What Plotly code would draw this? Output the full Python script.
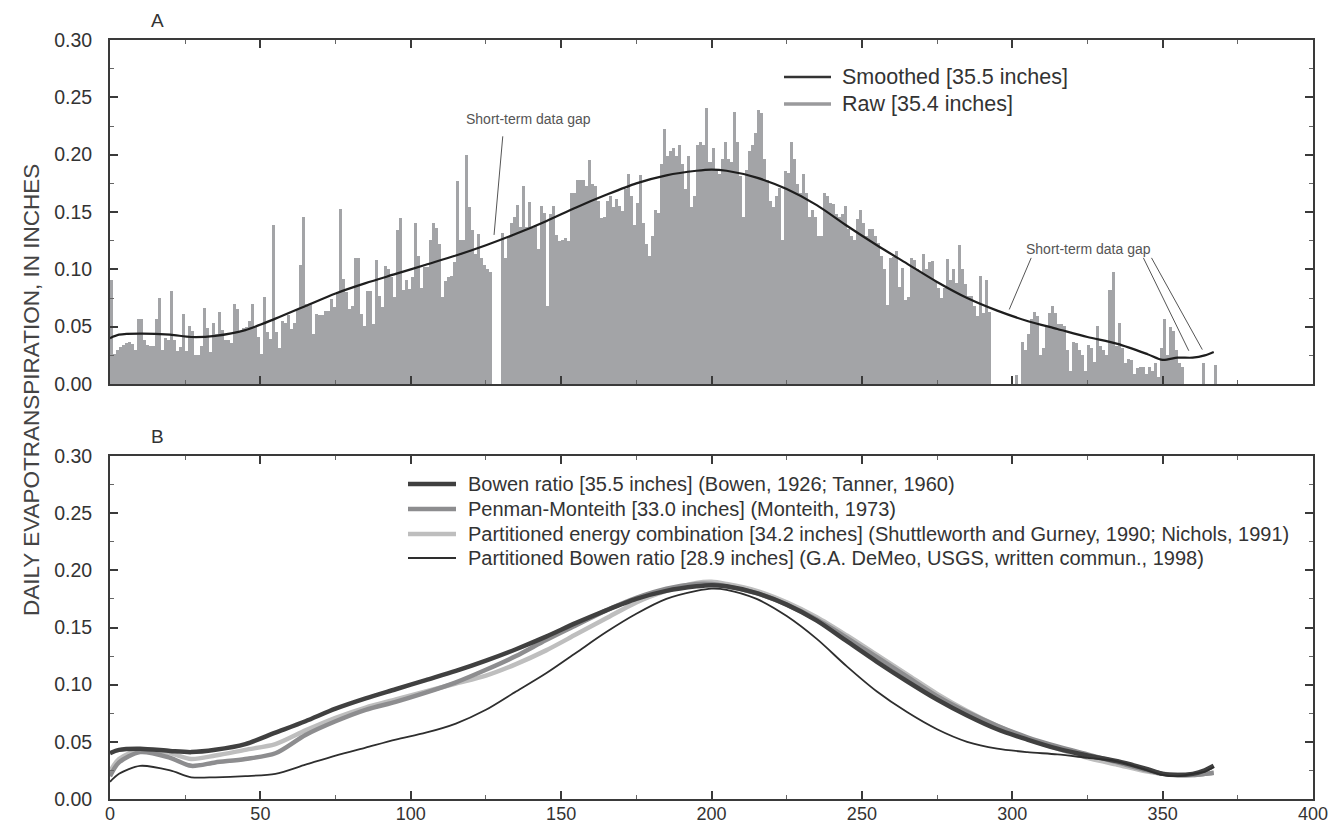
import plotly.graph_objects as go
from plotly.subplots import make_subplots

# ---------------- DATA ----------------
# Panel A: raw daily evapotranspiration (inches), day index 0..367
raw_days = list(range(0, 368))
raw_values = [
    # 0-65
    0.091, 0.026, 0.030, 0.032, 0.034, 0.036, 0.037, 0.035, 0.030, 0.057,
    0.057, 0.038, 0.034, 0.033, 0.033, 0.057, 0.075, 0.030, 0.040, 0.038,
    0.081, 0.038, 0.029, 0.032, 0.061, 0.029, 0.051, 0.046, 0.025, 0.025,
    0.033, 0.066, 0.049, 0.028, 0.053, 0.044, 0.063, 0.047, 0.038, 0.038,
    0.036, 0.070, 0.065, 0.045, 0.049, 0.050, 0.055, 0.070, 0.050, 0.041,
    0.026, 0.076, 0.045, 0.039, 0.139, 0.045, 0.031, 0.055, 0.053, 0.060,
    0.048, 0.053, 0.065, 0.104, 0.146, 0.070,
    # 66-131
    0.070, 0.044, 0.061, 0.060, 0.060, 0.064, 0.064, 0.074, 0.067, 0.080,
    0.153, 0.092, 0.080, 0.065, 0.068, 0.110, 0.110, 0.061, 0.051, 0.081,
    0.081, 0.052, 0.108, 0.077, 0.067, 0.103, 0.100, 0.093, 0.076, 0.134,
    0.145, 0.082, 0.091, 0.083, 0.093, 0.140, 0.112, 0.084, 0.102, 0.102,
    0.126, 0.140, 0.136, 0.122, 0.076, 0.090, 0.093, 0.094, 0.106, 0.177,
    0.126, 0.126, 0.200, 0.154, 0.134, 0.113, 0.131, 0.110, 0.104, 0.100,
    0.098, 0.0, 0.0, 0.0, 0.132, 0.110,
    # 132-199
    0.129, 0.140, 0.146, 0.156, 0.137, 0.173, 0.137, 0.159, 0.136, 0.139,
    0.118, 0.155, 0.149, 0.068, 0.148, 0.155, 0.130, 0.125, 0.126, 0.127,
    0.125, 0.167, 0.167, 0.178, 0.178, 0.178, 0.173, 0.195, 0.174, 0.173,
    0.160, 0.145, 0.146, 0.160, 0.164, 0.154, 0.161, 0.155, 0.151, 0.170,
    0.183, 0.164, 0.139, 0.158, 0.182, 0.140, 0.122, 0.112, 0.129, 0.152,
    0.149, 0.192, 0.222, 0.199, 0.203, 0.206, 0.199, 0.208, 0.192, 0.170,
    0.199, 0.154, 0.164, 0.208, 0.211, 0.208, 0.241, 0.194,
    # 200-265
    0.206, 0.187, 0.183, 0.196, 0.211, 0.196, 0.194, 0.237, 0.211, 0.181,
    0.146, 0.187, 0.203, 0.208, 0.219, 0.239, 0.236, 0.196, 0.178, 0.160,
    0.154, 0.164, 0.171, 0.126, 0.186, 0.184, 0.211, 0.196, 0.174, 0.167,
    0.183, 0.167, 0.146, 0.152, 0.146, 0.129, 0.129, 0.167, 0.164, 0.158,
    0.157, 0.148, 0.146, 0.148, 0.155, 0.135, 0.129, 0.126, 0.144, 0.152,
    0.140, 0.129, 0.135, 0.135, 0.129, 0.123, 0.112, 0.100, 0.069, 0.110,
    0.111, 0.116, 0.085, 0.101, 0.073, 0.076,
    # 266-332
    0.110, 0.108, 0.100, 0.098, 0.113, 0.100, 0.106, 0.107, 0.090, 0.084,
    0.075, 0.084, 0.109, 0.091, 0.100, 0.088, 0.121, 0.100, 0.087, 0.077,
    0.077, 0.068, 0.059, 0.094, 0.062, 0.091, 0.063, 0.0, 0.0, 0.0,
    0.0, 0.0, 0.0, 0.0, 0.0, 0.008, 0.0, 0.037, 0.030, 0.044,
    0.057, 0.063, 0.059, 0.025, 0.031, 0.050, 0.062, 0.068, 0.062, 0.052,
    0.052, 0.051, 0.030, 0.011, 0.037, 0.036, 0.030, 0.025, 0.011, 0.034,
    0.031, 0.019, 0.051, 0.033, 0.030, 0.025, 0.082,
    # 333-367
    0.098, 0.033, 0.053, 0.031, 0.018, 0.022, 0.021, 0.009, 0.014, 0.015,
    0.015, 0.009, 0.015, 0.011, 0.018, 0.006, 0.031, 0.057, 0.025, 0.050,
    0.046, 0.030, 0.018, 0.015, 0.0, 0.0, 0.0, 0.0, 0.0, 0.0,
    0.018, 0.0, 0.0, 0.0, 0.017,
]

# Smoothed curves (control days)
curve_days = [0, 3, 10, 20, 27, 35, 45, 55, 65, 75, 85, 95, 105, 115, 125, 135,
              145, 155, 165, 175, 185, 195, 200, 205, 215, 225, 235, 245, 255,
              265, 275, 285, 295, 305, 315, 325, 335, 345, 350, 355, 360, 364, 367]

smoothed_a = [0.040, 0.043, 0.044, 0.043, 0.041, 0.042, 0.047, 0.057, 0.068, 0.079,
              0.088, 0.096, 0.104, 0.112, 0.121, 0.131, 0.142, 0.154, 0.165, 0.175,
              0.182, 0.186, 0.187, 0.186, 0.180, 0.170, 0.156, 0.138, 0.121, 0.105,
              0.089, 0.075, 0.064, 0.055, 0.048, 0.041, 0.035, 0.026, 0.021, 0.023,
              0.023, 0.025, 0.028]

bowen = [0.040, 0.043, 0.044, 0.042, 0.041, 0.043, 0.048, 0.058, 0.068, 0.079,
         0.088, 0.096, 0.104, 0.112, 0.121, 0.131, 0.142, 0.154, 0.165, 0.175,
         0.182, 0.186, 0.187, 0.186, 0.180, 0.170, 0.156, 0.138, 0.120, 0.103,
         0.087, 0.073, 0.061, 0.052, 0.044, 0.038, 0.033, 0.026, 0.022, 0.021,
         0.022, 0.025, 0.029]

penman = [0.020, 0.032, 0.041, 0.036, 0.029, 0.032, 0.035, 0.040, 0.056, 0.068,
          0.078, 0.085, 0.093, 0.102, 0.113, 0.125, 0.139, 0.152, 0.165, 0.176,
          0.184, 0.188, 0.188, 0.186, 0.180, 0.170, 0.157, 0.141, 0.124, 0.107,
          0.090, 0.076, 0.064, 0.054, 0.046, 0.039, 0.032, 0.025, 0.022, 0.021,
          0.021, 0.022, 0.023]

part_energy = [0.024, 0.035, 0.043, 0.040, 0.035, 0.038, 0.043, 0.048, 0.060, 0.071,
               0.080, 0.087, 0.094, 0.101, 0.108, 0.118, 0.130, 0.144, 0.158, 0.172,
               0.182, 0.189, 0.190, 0.188, 0.182, 0.172, 0.159, 0.143, 0.126, 0.109,
               0.092, 0.077, 0.064, 0.053, 0.044, 0.036, 0.030, 0.024, 0.022, 0.021,
               0.021, 0.022, 0.023]

part_bowen = [0.015, 0.022, 0.029, 0.025, 0.019, 0.019, 0.020, 0.022, 0.030, 0.038,
              0.045, 0.052, 0.058, 0.066, 0.078, 0.094, 0.110, 0.128, 0.146, 0.162,
              0.175, 0.182, 0.184, 0.183, 0.175, 0.160, 0.140, 0.116, 0.094, 0.076,
              0.061, 0.050, 0.044, 0.041, 0.039, 0.036, 0.033, 0.025, 0.021, 0.020,
              0.022, 0.024, 0.028]

legend_a = ["Smoothed [35.5 inches]", "Raw [35.4 inches]"]
legend_b = [
    "Bowen ratio [35.5 inches] (Bowen, 1926; Tanner, 1960)",
    "Penman-Monteith [33.0 inches] (Monteith, 1973)",
    "Partitioned energy combination [34.2 inches] (Shuttleworth and Gurney, 1990; Nichols, 1991)",
    "Partitioned Bowen ratio [28.9 inches] (G.A. DeMeo, USGS, written commun., 1998)",
]
x_ticks = [0, 50, 100, 150, 200, 250, 300, 350, 400]
y_ticks = [0.00, 0.05, 0.10, 0.15, 0.20, 0.25, 0.30]

# ---------------- STYLE ----------------
FONT = "Liberation Sans, Arial, Helvetica, sans-serif"
TXT = "#333333"
AX = "#3a3a3a"
BAR = "#a3a4a7"
# The page body has an 8px margin, so the figure is shrunk by 8px and offsets reduced.
OFF = 8
W_REF, H_REF = 1342, 825
L, R, T, B = 110, 29, 40, 26
W, H = W_REF - OFF, H_REF - OFF
PW = W_REF - L - R
PH = H_REF - T - B


def px(xp):
    return (xp - L) / PW


def py(yp):
    return (H_REF - B - yp) / PH


fig = make_subplots(rows=2, cols=1, vertical_spacing=0.0)

fig.add_trace(go.Bar(x=[d + 0.5 for d in raw_days], y=raw_values, width=1.0,
                     marker=dict(color=BAR, line=dict(width=0)),
                     showlegend=False, name="Raw"), row=1, col=1)
fig.add_trace(go.Scatter(x=curve_days, y=smoothed_a, mode="lines",
                         line=dict(color="#1e1e1e", width=2.2, shape="spline", smoothing=0.8),
                         showlegend=False, name="Smoothed"), row=1, col=1)

styles_b = [
    dict(color="#404040", width=4.5),
    dict(color="#8d8d8f", width=4.5),
    dict(color="#bebebe", width=4.5),
    dict(color="#2e2e2e", width=1.8),
]
series_b = [bowen, penman, part_energy, part_bowen]
order = [2, 1, 0, 3]
for i in order:
    fig.add_trace(go.Scatter(x=curve_days, y=series_b[i], mode="lines",
                             line=dict(shape="spline", smoothing=0.8, **styles_b[i]),
                             showlegend=False, name=legend_b[i]), row=2, col=1)

axis_common = dict(showline=True, linecolor=AX, linewidth=2, mirror="allticks",
                   ticks="inside", ticklen=8, tickwidth=2, tickcolor=AX,
                   showgrid=False, zeroline=False)

fig.update_xaxes(range=[0, 400], tickvals=x_ticks, ticklabelstandoff=-3,
                 tickfont=dict(family=FONT, size=18, color=TXT),
                 minor=dict(ticks="inside", ticklen=4, tickwidth=1, tickcolor="#666", dtick=25, tick0=0),
                 **axis_common)
fig.update_xaxes(showticklabels=False, row=1, col=1)
fig.update_yaxes(range=[0, 0.30], tickvals=y_ticks, tickformat=".2f", ticklabelstandoff=12,
                 tickfont=dict(family=FONT, size=19.5, color=TXT),
                 minor=dict(ticks="inside", ticklen=4, tickwidth=1, tickcolor="#666", dtick=0.025, tick0=0),
                 **axis_common)

fig.update_layout(
    width=W, height=H,
    margin=dict(l=L - OFF, r=R, t=T - OFF, b=B, autoexpand=False),
    paper_bgcolor="white", plot_bgcolor="white",
    bargap=0, showlegend=False,
    font=dict(family=FONT, color=TXT),
)
fig.update_yaxes(domain=[py(384), 1.0], row=1, col=1)
fig.update_yaxes(domain=[0.0, py(456)], row=2, col=1)

shapes = []
annotations = []

# Legend A (drawn)
rows_a = [(77, dict(color="#333333", width=2.5)), (104, dict(color="#9a9a9c", width=3.5))]
for (yy, ln), label in zip(rows_a, legend_a):
    shapes.append(dict(type="line", xref="paper", yref="paper", x0=px(784), x1=px(831),
                       y0=py(yy), y1=py(yy), line=ln))
    annotations.append(dict(xref="paper", yref="paper", x=px(840), y=py(yy), text=label,
                            showarrow=False, xanchor="left", yanchor="middle",
                            font=dict(family=FONT, size=21.5, color=TXT)))

# Legend B (drawn)
rows_b = [484, 509, 534, 558]
for yy, st, label in zip(rows_b, styles_b, legend_b):
    shapes.append(dict(type="line", xref="paper", yref="paper", x0=px(408), x1=px(456),
                       y0=py(yy), y1=py(yy), line=dict(color=st["color"], width=st["width"])))
    annotations.append(dict(xref="paper", yref="paper", x=px(466), y=py(yy), text=label,
                            showarrow=False, xanchor="left", yanchor="middle",
                            font=dict(family=FONT, size=20, color=TXT)))

# Data gap annotations (panel A, data coordinates)
gap_font = dict(family=FONT, size=14, color="#555555")
annotations.append(dict(xref="x", yref="y", x=139, y=0.231, text="Short-term data gap",
                        showarrow=False, xanchor="center", yanchor="middle", font=gap_font))
annotations.append(dict(xref="x", yref="y", x=325.5, y=0.118, text="Short-term data gap",
                        showarrow=False, xanchor="center", yanchor="middle", font=gap_font))
gap_lines = [(130.6, 0.216, 127.7, 0.130), (306.3, 0.110, 299.0, 0.065),
             (343.6, 0.110, 358.7, 0.029), (346.3, 0.110, 363.2, 0.030)]
for x0, y0, x1, y1 in gap_lines:
    shapes.append(dict(type="line", xref="x", yref="y", x0=x0, y0=y0, x1=x1, y1=y1,
                       line=dict(color="#555555", width=1)))

# Panel labels and y title
annotations.append(dict(xref="paper", yref="paper", x=px(157), y=py(20), text="A", showarrow=False,
                        xanchor="center", yanchor="middle",
                        font=dict(family=FONT, size=19, color=TXT)))
annotations.append(dict(xref="paper", yref="paper", x=px(157), y=py(437), text="B", showarrow=False,
                        xanchor="center", yanchor="middle",
                        font=dict(family=FONT, size=19, color=TXT)))
annotations.append(dict(xref="paper", yref="paper", x=px(31), y=py(390),
                        text="DAILY EVAPOTRANSPIRATION, IN INCHES", showarrow=False, textangle=-90,
                        xanchor="center", yanchor="middle",
                        font=dict(family=FONT, size=22.5, color="#444444")))

fig.update_layout(shapes=shapes, annotations=annotations)
fig.write_html("out.html")
